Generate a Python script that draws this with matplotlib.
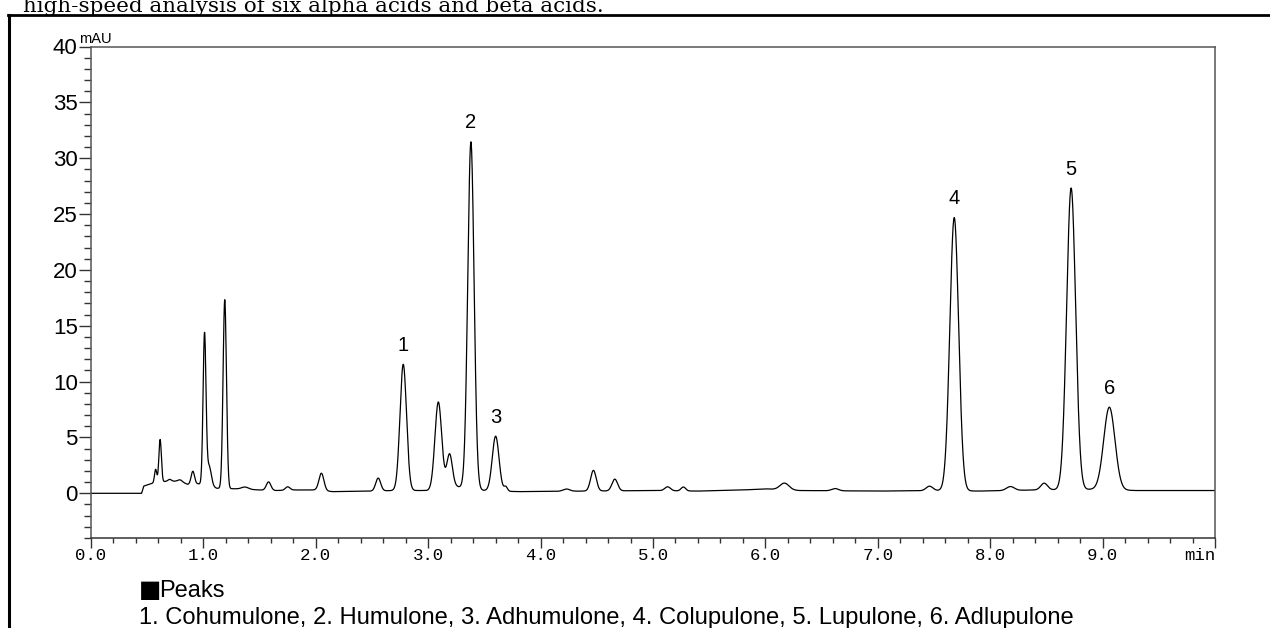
import numpy as np
import matplotlib.pyplot as plt
from matplotlib.lines import Line2D
from matplotlib.ticker import MultipleLocator

W, H = 1270, 628

# peak table: retention time (min), height above baseline (mAU), sigma (min)
peak_rt = [0.575, 0.615, 0.70, 0.79, 0.906, 1.01, 1.05, 1.19, 1.37, 1.58, 1.75, 2.05,
           2.555, 2.778, 3.09, 3.19, 3.38, 3.60, 3.69, 4.23, 4.47, 4.66, 5.13, 5.27,
           6.17, 6.62, 7.46, 7.68, 8.18, 8.48, 8.72, 9.06]
peak_height = [1.2, 3.8, 0.15, 0.15, 1.15, 13.4, 1.8, 16.9, 0.2, 0.75, 0.3, 1.55,
               1.15, 11.3, 7.8, 3.0, 31.05, 4.9, 0.4, 0.2, 1.85, 1.05, 0.35, 0.35,
               0.6, 0.2, 0.4, 24.45, 0.35, 0.6, 27.0, 7.4]
peak_sigma = [0.01, 0.011, 0.015, 0.02, 0.015, 0.013, 0.02, 0.015, 0.03, 0.02, 0.02, 0.022,
              0.022, 0.029, 0.03, 0.025, 0.028, 0.03, 0.015, 0.03, 0.025, 0.025, 0.025, 0.02,
              0.04, 0.03, 0.03, 0.039, 0.035, 0.03, 0.04, 0.05]

# baseline drift
base_t = [0, 0.45, 0.47, 0.53, 0.6, 0.7, 0.8, 0.86, 0.95, 1.0, 1.12, 1.3, 1.5, 1.65, 1.8,
          2.0, 2.15, 2.5, 2.7, 3.0, 3.25, 3.5, 3.8, 4.4, 5.0, 5.4, 5.8, 6.0, 6.3, 7.0,
          7.6, 7.9, 8.4, 8.9, 9.3, 10.0]
base_v = [0, 0, 0.65, 0.85, 1.0, 1.1, 1.05, 0.8, 0.85, 0.8, 0.45, 0.4, 0.3, 0.25, 0.3,
          0.3, 0.15, 0.2, 0.25, 0.25, 0.6, 0.25, 0.15, 0.2, 0.25, 0.2, 0.3, 0.4, 0.25, 0.2,
          0.25, 0.2, 0.3, 0.35, 0.25, 0.25]

label_rt = [2.778, 3.38, 3.60, 7.68, 8.72, 9.06]
label_num = ['1', '2', '3', '4', '5', '6']
compounds = ['Cohumulone', 'Humulone', 'Adhumulone', 'Colupulone', 'Lupulone', 'Adlupulone']

xtick_vals = [0, 1, 2, 3, 4, 5, 6, 7, 8, 9, 10]
xtick_text = ['0.0', '1.0', '2.0', '3.0', '4.0', '5.0', '6.0', '7.0', '8.0', '9.0', 'min']
ytick_vals = [0, 5, 10, 15, 20, 25, 30, 35, 40]

t = np.linspace(0, 10, 6001)
signal = np.interp(t, base_t, base_v)
for rt, h, s in zip(peak_rt, peak_height, peak_sigma):
    signal += h * np.exp(-0.5 * ((t - rt) / s) ** 2)

fig = plt.figure(figsize=(W / 100, H / 100), dpi=100)
ax = fig.add_axes([91 / W, 1 - 538 / H, 1124 / W, 491.5 / H])

ax.plot(t, signal, color='black', lw=0.9)
ax.set_xlim(0, 10)
ax.set_ylim(-4, 40)

ax.set_xticks(xtick_vals)
ax.set_xticklabels(xtick_text, family='Liberation Mono', size=12.5)
ax.get_xticklabels()[-1].set_horizontalalignment('right')
ax.xaxis.set_minor_locator(MultipleLocator(0.2))
ax.set_yticks(ytick_vals)
ax.set_yticklabels([str(v) for v in ytick_vals], family='Liberation Sans', size=16)
ax.yaxis.set_minor_locator(MultipleLocator(1))

ax.tick_params(axis='x', which='major', length=7.2, width=1, color='#333333', pad=0)
ax.tick_params(axis='x', which='minor', length=3.6, width=1, color='#333333')
ax.tick_params(axis='y', which='major', length=8.6, width=1, color='#333333', pad=1)
ax.tick_params(axis='y', which='minor', length=5, width=1, color='#333333')
for side in ['left', 'right', 'top', 'bottom']:
    ax.spines[side].set_color('#555555')
    ax.spines[side].set_linewidth(1.1)
ax.spines['bottom'].set_color('#333333')

for rt, num in zip(label_rt, label_num):
    ax.annotate(num, xy=(rt, np.interp(rt, t, signal)), xytext=(0, 19),
                textcoords='offset pixels', ha='center', va='center',
                family='Liberation Sans', size=14.5)

fig.text(79 / W, 1 - 43 / H, 'mAU', va='baseline', ha='left', family='Liberation Sans', size=10.5)

fig.text(23 / W, 1 - 12 / H, 'high-speed analysis of six alpha acids and beta acids.',
         family='DejaVu Serif', size=15.4, va='baseline', ha='left')

fig.text(139 / W, 1 - 597 / H, '\u25a0', family='DejaVu Sans', size=17, va='baseline', ha='left')
fig.text(159 / W, 1 - 597 / H, 'Peaks', family='Liberation Sans', size=17, va='baseline', ha='left')
peak_list = ', '.join(f'{n}. {c}' for n, c in zip(label_num, compounds))
fig.text(139 / W, 1 - 624 / H, peak_list, family='Liberation Sans', size=17.1,
         va='baseline', ha='left')

# page frame lines
fig.add_artist(Line2D([8 / W, 1], [1 - 15 / H, 1 - 15 / H], transform=fig.transFigure,
                      color='black', lw=2))
fig.add_artist(Line2D([9 / W, 9 / W], [0, 1 - 15 / H], transform=fig.transFigure,
                      color='black', lw=2.2))

fig.savefig('out.png', dpi=100)
